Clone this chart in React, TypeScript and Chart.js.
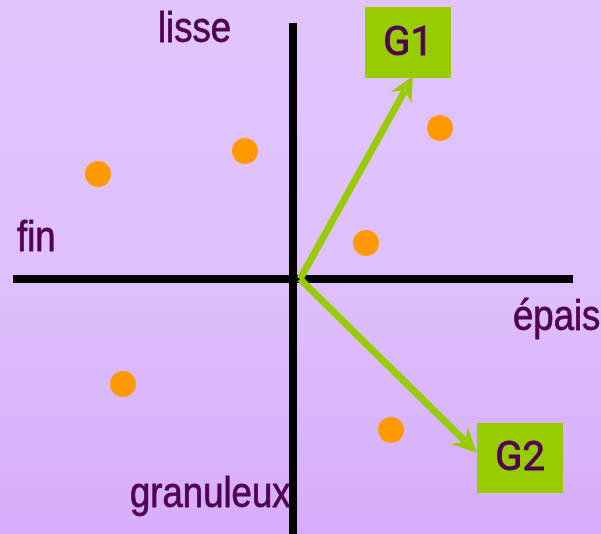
import React, { useEffect, useRef } from "react";
import { Chart, registerables } from "chart.js";

Chart.register(...registerables);

// Scatter points (product positions on the map)
const pointsX = [-1.95, -0.48, 1.47, 0.73, -1.7, 0.98];
const pointsY = [1.05, 1.28, 1.51, 0.36, -1.05, -1.51];

// Axes extents
const axisXExtent = [-2.8, 2.8];
const axisYExtent = [-2.56, 2.56];

// Group vectors: start and tip
const groupNames = ["G1", "G2"];
const vectorStartX = [0.07, 0.07];
const vectorStartY = [0, 0];
const vectorTipX = [1.2, 1.84];
const vectorTipY = [2.03, -1.74];
// Group label boxes [x0, x1, y0, y1]
const boxX0 = [0.72, 1.84];
const boxX1 = [1.58, 2.7];
const boxY0 = [2.01, -2.14];
const boxY1 = [2.72, -1.44];

// Axis pole labels
const poleLabels = ["lisse", "fin", "épais", "granuleux"];
const poleX = [-1.35, -2.76, 2.2, -1.63];
const poleY = [2.37, 0.28, -0.51, -2.28];

export default function App() {
  const ref = useRef<HTMLCanvasElement | null>(null);

  useEffect(() => {
    document.body.style.margin = "0";
    const canvas = ref.current;
    if (!canvas) return;

    const overlay = {
      id: "overlay",
      afterDatasetsDraw(chart: any) {
        const ctx = chart.ctx as CanvasRenderingContext2D;
        const xs = chart.scales.x;
        const ys = chart.scales.y;
        ctx.save();
        // arrowheads
        for (let i = 0; i < groupNames.length; i++) {
          const sx = xs.getPixelForValue(vectorStartX[i]);
          const sy = ys.getPixelForValue(vectorStartY[i]);
          const tx = xs.getPixelForValue(vectorTipX[i]);
          const ty = ys.getPixelForValue(vectorTipY[i]);
          const ang = Math.atan2(ty - sy, tx - sx);
          const len = 25;
          const half = 12;
          const notch = 16;
          const bx = tx - len * Math.cos(ang);
          const by = ty - len * Math.sin(ang);
          const nx = -Math.sin(ang);
          const ny = Math.cos(ang);
          const mx = tx - notch * Math.cos(ang);
          const my = ty - notch * Math.sin(ang);
          ctx.fillStyle = "#99CC00";
          ctx.beginPath();
          ctx.moveTo(tx, ty);
          ctx.lineTo(bx + nx * half, by + ny * half);
          ctx.lineTo(mx, my);
          ctx.lineTo(bx - nx * half, by - ny * half);
          ctx.closePath();
          ctx.fill();
        }
        // boxes
        for (let i = 0; i < groupNames.length; i++) {
          const x0 = xs.getPixelForValue(boxX0[i]);
          const x1 = xs.getPixelForValue(boxX1[i]);
          const y0 = ys.getPixelForValue(boxY0[i]);
          const y1 = ys.getPixelForValue(boxY1[i]);
          ctx.fillStyle = "#99CC00";
          ctx.fillRect(Math.min(x0, x1), Math.min(y0, y1), Math.abs(x1 - x0), Math.abs(y1 - y0));
          ctx.fillStyle = "#500050";
          ctx.strokeStyle = "#500050";
          ctx.lineWidth = 0.9;
          ctx.font = "40px Roboto, 'Liberation Sans', sans-serif";
          ctx.textAlign = "center";
          ctx.textBaseline = "middle";
          const cx = (x0 + x1) / 2;
          const cy = (y0 + y1) / 2 + 2;
          ctx.fillText(groupNames[i], cx, cy);
          ctx.strokeText(groupNames[i], cx, cy);
        }
        // pole labels (condensed)
        ctx.fillStyle = "#500050";
        ctx.strokeStyle = "#500050";
        ctx.lineWidth = 0.8;
        ctx.lineJoin = "round";
        ctx.font = "42px 'Liberation Sans', sans-serif";
        ctx.textAlign = "left";
        ctx.textBaseline = "alphabetic";
        const squeeze = 0.87;
        for (let i = 0; i < poleLabels.length; i++) {
          const px = xs.getPixelForValue(poleX[i]);
          const py = ys.getPixelForValue(poleY[i]);
          ctx.save();
          ctx.translate(px, py);
          ctx.scale(squeeze, 1);
          ctx.fillText(poleLabels[i], 0, 0);
          ctx.strokeText(poleLabels[i], 0, 0);
          ctx.restore();
        }
        ctx.restore();
      },
    };

    const vectorDatasets = groupNames.map((g, i) => {
      const ang = Math.atan2(vectorTipY[i] - vectorStartY[i], vectorTipX[i] - vectorStartX[i]);
      return {
        type: "line" as const,
        label: g,
        data: [
          { x: vectorStartX[i], y: vectorStartY[i] },
          { x: vectorTipX[i] - 0.17 * Math.cos(ang), y: vectorTipY[i] - 0.17 * Math.sin(ang) },
        ],
        borderColor: "#99CC00",
        borderWidth: 7,
        pointRadius: 0,
        order: 1,
      };
    });

    const chart = new Chart(canvas, {
      type: "scatter",
      data: {
        datasets: [
          {
            type: "line",
            label: "axe horizontal",
            data: [
              { x: axisXExtent[0], y: 0 },
              { x: axisXExtent[1], y: 0 },
            ],
            borderColor: "#000000",
            borderWidth: 8,
            borderCapStyle: "butt",
            pointRadius: 0,
            order: 3,
          },
          {
            type: "line",
            label: "axe vertical",
            data: [
              { x: 0, y: axisYExtent[0] },
              { x: 0, y: axisYExtent[1] },
            ],
            borderColor: "#000000",
            borderWidth: 8,
            borderCapStyle: "butt",
            pointRadius: 0,
            order: 3,
          },
          ...vectorDatasets,
          {
            type: "scatter",
            label: "produits",
            data: pointsX.map((x, i) => ({ x, y: pointsY[i] })),
            backgroundColor: "#FF9900",
            borderWidth: 0,
            pointRadius: 13,
            order: 0,
          },
        ] as any,
      },
      options: {
        animation: false,
        responsive: false,
        maintainAspectRatio: false,
        layout: { padding: 0, autoPadding: false },
        plugins: { legend: { display: false }, tooltip: { enabled: false } },
        scales: {
          x: { type: "linear", min: -2.93, max: 3.08, display: false },
          y: { type: "linear", min: -2.55, max: 2.79, display: false },
        },
      },
      plugins: [overlay],
    });
    return () => chart.destroy();
  }, []);

  return (
    <div
      style={{
        position: "absolute",
        left: 0,
        top: 0,
        width: 601,
        height: 534,
        background: "linear-gradient(to bottom, #E1C5FE 0%, #DFC0FD 50%, #D6ADF9 100%)",
      }}
    >
      <canvas ref={ref} width={601} height={534} style={{ display: "block" }} />
    </div>
  );
}
